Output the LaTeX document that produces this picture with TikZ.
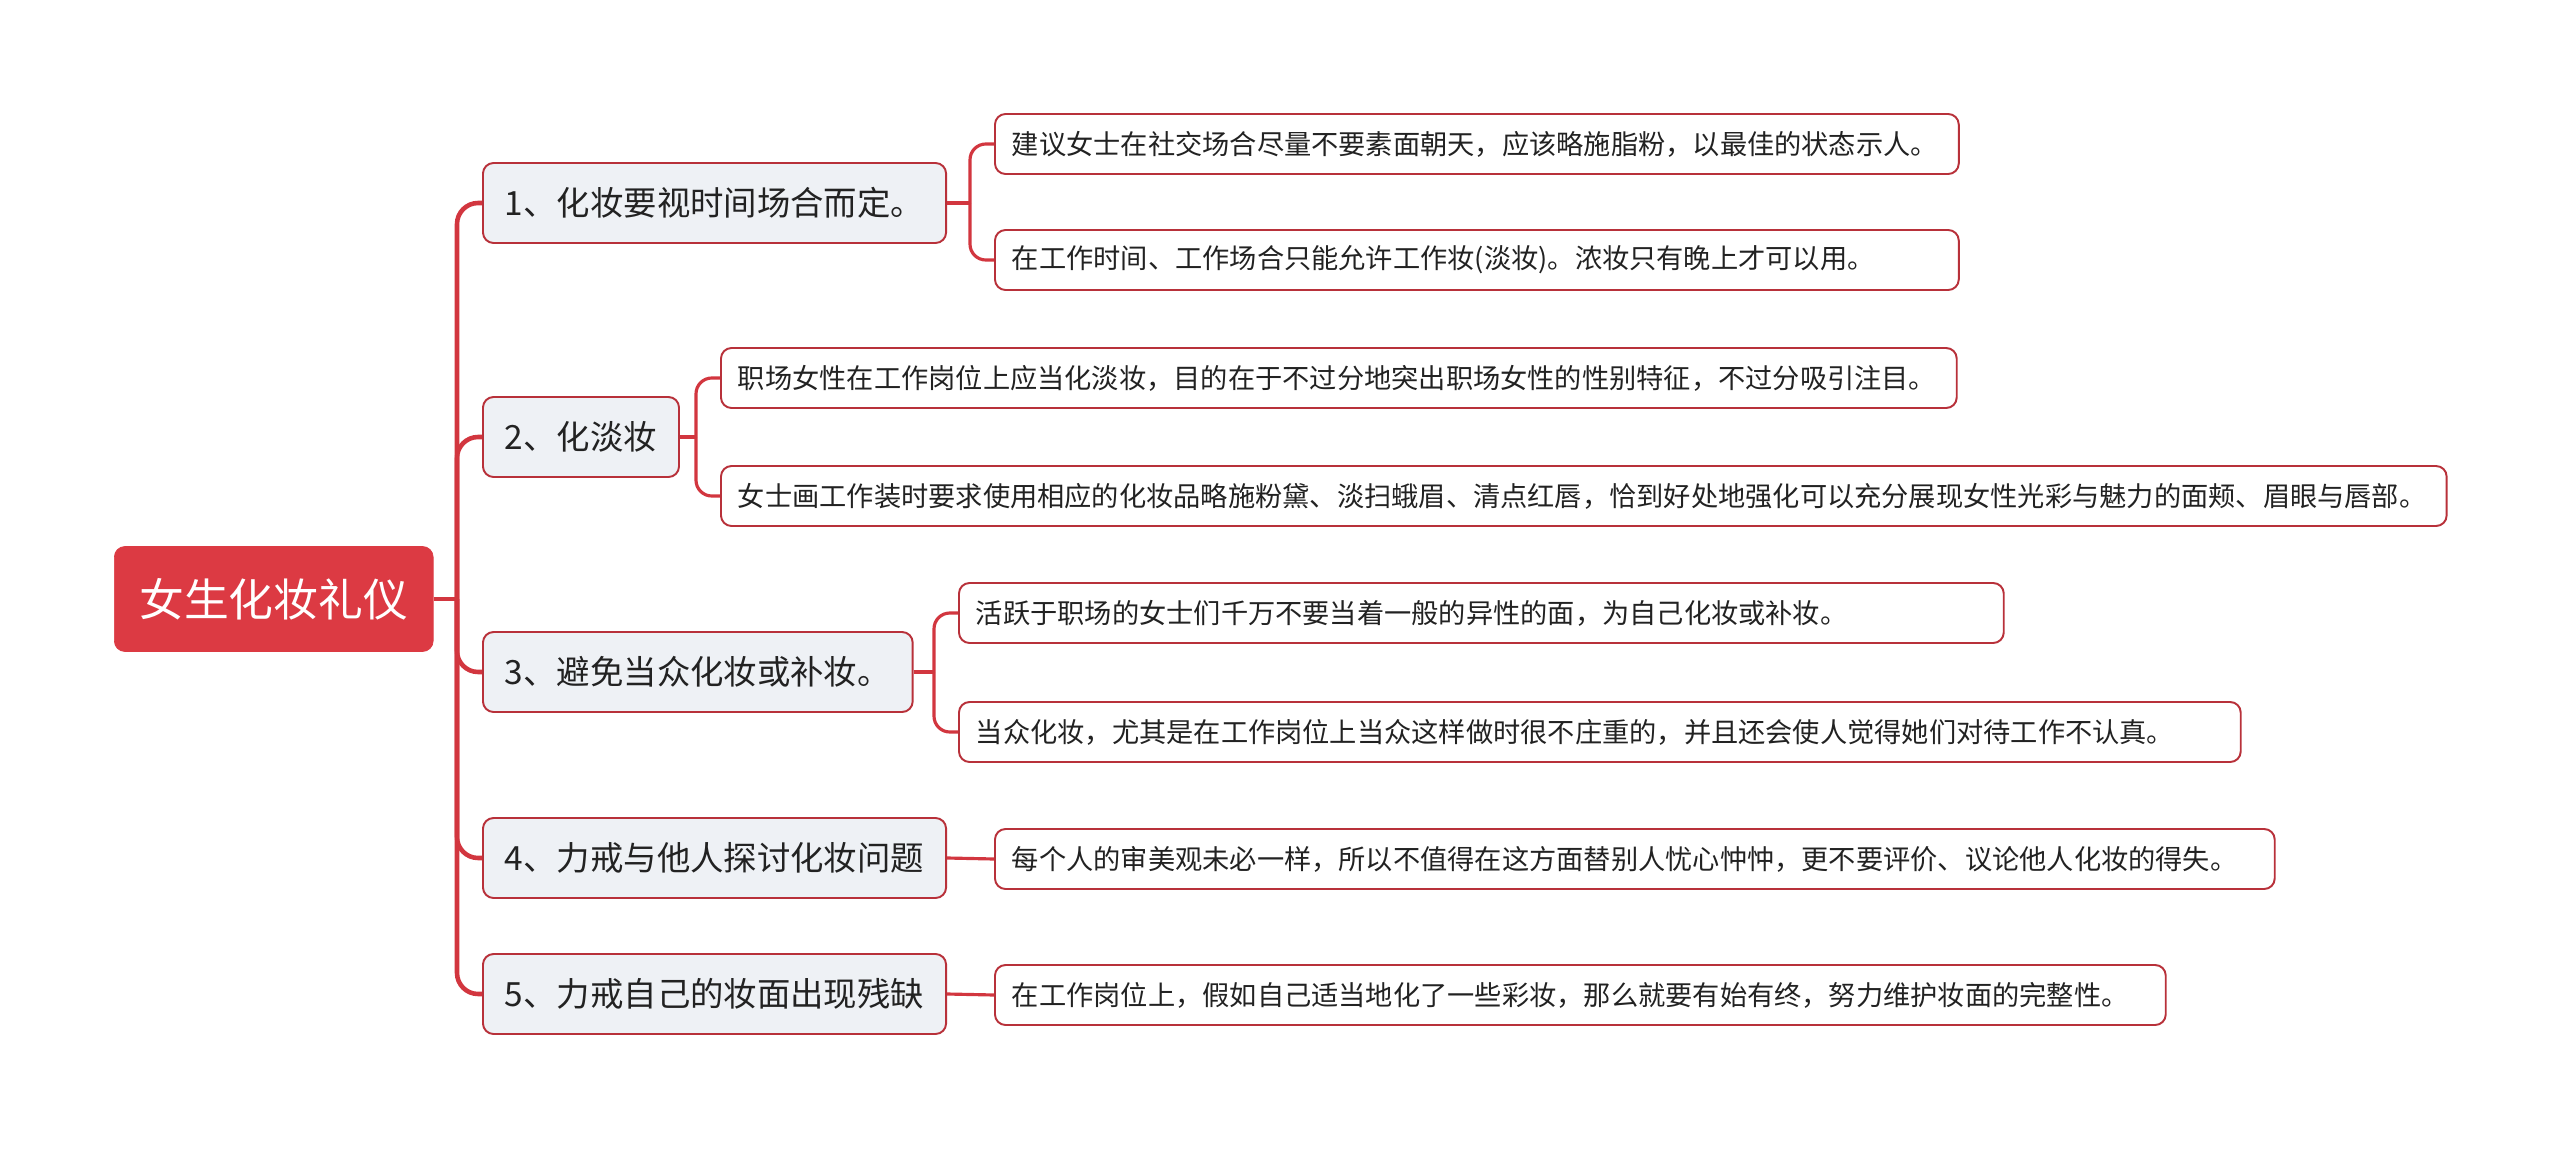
\documentclass[tikz,border=0pt]{standalone}
\usepackage{fontspec}
\setmainfont{Noto Sans CJK SC}
\definecolor{rootred}{HTML}{DC3A43}
\definecolor{linered}{HTML}{D2363F}
\definecolor{edgered}{HTML}{B8313A}
\definecolor{topicbg}{HTML}{EEF1F5}
\definecolor{inkdark}{HTML}{222222}
\tikzset{
  rootbox/.style={
    draw=rootred, fill=rootred, rounded corners=6pt,
    minimum height=2.1cm, inner xsep=0.5cm, anchor=west,
    font=\fontsize{25.5}{30}\selectfont, text=white
  },
  topic/.style={
    draw=edgered, fill=topicbg, line width=1.1pt, rounded corners=6pt,
    minimum height=1.6cm, inner xsep=0.44cm, anchor=west,
    font=\fontsize{19}{23}\selectfont, text=inkdark
  },
  leaf/.style={
    draw=edgered, fill=white, line width=1.1pt, rounded corners=6pt,
    minimum height=1.2cm, inner xsep=0.34cm, anchor=west,
    text width=#1, align=left,
    font=\fontsize{15.5}{19}\selectfont, text=inkdark
  },
  leaf/.default=18cm,
  trunk/.style={draw=linered, line width=2.6pt, rounded corners=12pt},
  twig/.style={draw=linered, line width=1.8pt, rounded corners=9pt},
}
\begin{document}
\begin{tikzpicture}[x=0.02cm, y=-0.02cm]
  \useasboundingbox (0,0) rectangle (2560,1149);

  % Root
  \node[rootbox] (root) at (114,599) {女生化妆礼仪};

  % Topics
  \node[topic] (t1) at (482,203) {1、化妆要视时间场合而定。};
  \node[topic] (t2) at (482,437) {2、化淡妆};
  \node[topic] (t3) at (482,672) {3、避免当众化妆或补妆。};
  \node[topic] (t4) at (482,858) {4、力戒与他人探讨化妆问题};
  \node[topic] (t5) at (482,994) {5、力戒自己的妆面出现残缺};

  % Details
  \node[leaf=18.6cm] (d1a) at (994,144) {建议女士在社交场合尽量不要素面朝天，应该略施脂粉，以最佳的状态示人。};
  \node[leaf=18.6cm] (d1b) at (994,260) {在工作时间、工作场合只能允许工作妆(淡妆)。浓妆只有晚上才可以用。};
  \node[leaf=24.04cm] (d2a) at (720,378) {职场女性在工作岗位上应当化淡妆，目的在于不过分地突出职场女性的性别特征，不过分吸引注目。};
  \node[leaf=33.84cm] (d2b) at (720,496) {女士画工作装时要求使用相应的化妆品略施粉黛、淡扫蛾眉、清点红唇，恰到好处地强化可以充分展现女性光彩与魅力的面颊、眉眼与唇部。};
  \node[leaf=20.22cm] (d3a) at (958,613) {活跃于职场的女士们千万不要当着一般的异性的面，为自己化妆或补妆。};
  \node[leaf=24.96cm] (d3b) at (958,732) {当众化妆，尤其是在工作岗位上当众这样做时很不庄重的，并且还会使人觉得她们对待工作不认真。};
  \node[leaf=24.92cm] (d4a) at (994,859) {每个人的审美观未必一样，所以不值得在这方面替别人忧心忡忡，更不要评价、议论他人化妆的得失。};
  \node[leaf=22.74cm] (d5a) at (994,995) {在工作岗位上，假如自己适当地化了一些彩妆，那么就要有始有终，努力维护妆面的完整性。};

  % Branches
  \coordinate (rootfork) at (457,599);
  \draw[trunk] (root.east) -- (rootfork);
  \foreach \t in {t1,t2,t3,t4,t5}
    \draw[trunk] (rootfork) |- (\t.west);

  \coordinate (fork1) at (970,203);
  \draw[twig] (t1.east) -- (fork1);
  \draw[twig] (fork1) |- (d1a.west);
  \draw[twig] (fork1) |- (d1b.west);

  \coordinate (fork2) at (696,437);
  \draw[twig] (t2.east) -- (fork2);
  \draw[twig] (fork2) |- (d2a.west);
  \draw[twig] (fork2) |- (d2b.west);

  \coordinate (fork3) at (934,672);
  \draw[twig] (t3.east) -- (fork3);
  \draw[twig] (fork3) |- (d3a.west);
  \draw[twig] (fork3) |- (d3b.west);

  \draw[twig] (t4.east) -- (d4a.west);
  \draw[twig] (t5.east) -- (d5a.west);
\end{tikzpicture}
\end{document}
